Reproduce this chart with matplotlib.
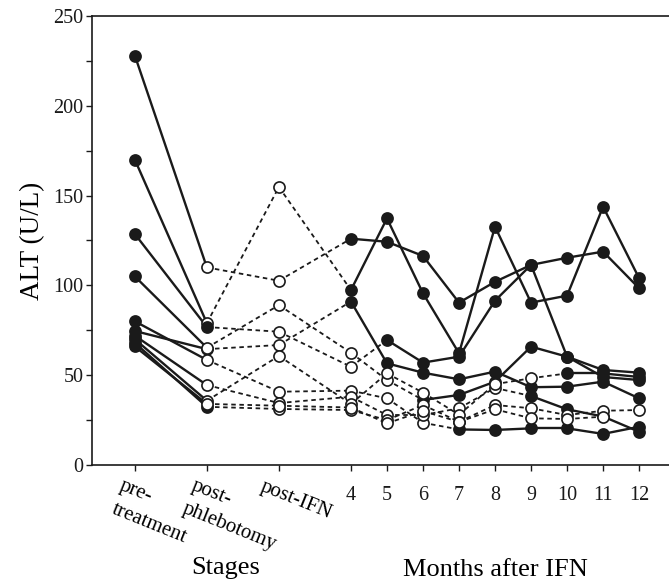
import matplotlib
matplotlib.use('Agg')
import matplotlib.pyplot as plt
import numpy as np

plt.rcParams['font.family'] = ['Liberation Serif', 'DejaVu Serif']

# x positions: 3 stages then months 4..12
stage_lines = [['pre-', 'treatment'], ['post-', 'phlebotomy'], ['post-IFN']]
months = [4, 5, 6, 7, 8, 9, 10, 11, 12]
xpos = [0, 2, 4] + [6 + i for i in range(len(months))]

# ALT values per patient (pre, post-phleb, post-IFN, month 4..12)
p1 = [228, 110, 102.6, 126, 124.3, 116.4, 90.4, 102, 111.4, 115.4, 118.8, 98.4]
p2 = [170, 79, 154.8, 97.4, 137.3, 95.6, 62.2, 132.7, 90.4, 94.3, 143.8, 104]
p3 = [128.6, 76.8, 74.2, 54.7, 69.6, 57, 60.3, 91.5, 111.4, 60.3, 52.9, 51.4]
p4 = [74.6, 64.5, 66.8, 91, 56.6, 51.4, 47.7, 52, 43.3, 43.6, 46.4, 37.1]
p5 = [105, 65.3, 89, 62.5, 47.3, 36.2, 39, 46.4, 65.9, 60.3, 49, 47.3]
p6 = [80, 58.5, 40.8, 41.4, 37.1, 23.5, 19.8, 19.5, 20.4, 20.4, 17.3, 21.3]
p7 = [72, 44.5, 34.5, 38, 27.8, 27.8, 31.6, 42.9, 38.4, 31, 27, 18.5]
p8 = [70, 35.8, 60.7, 34, 51, 40.3, 28, 45, 48.3, 51, 51, 49]
p9 = [68, 32.4, 31.2, 30.6, 25, 33.4, 24.1, 33.4, 31.6, 27.8, 30.2, 30.6]
p10 = [66, 34, 33, 32, 23.2, 30, 24, 31, 26, 25.6, 26.9, None]

# 1 = filled circle, 0 = open circle
f1 = [1, 0, 0, 1, 1, 1, 1, 1, 1, 1, 1, 1]
f2 = [1, 0, 0, 1, 1, 1, 1, 1, 1, 1, 1, 1]
f3 = [1, 1, 0, 0, 1, 1, 1, 1, 1, 1, 1, 1]
f4 = [1, 0, 0, 1, 1, 1, 1, 1, 1, 1, 1, 1]
f5 = [1, 0, 0, 0, 0, 1, 1, 1, 1, 1, 1, 1]
f6 = [1, 0, 0, 0, 0, 0, 1, 1, 1, 1, 1, 1]
f7 = [1, 0, 0, 0, 0, 0, 0, 0, 1, 1, 1, 1]
f8 = [1, 0, 0, 0, 0, 0, 0, 0, 0, 1, 1, 1]
f9 = [1, 1, 0, 0, 0, 0, 0, 0, 0, 0, 0, 0]
f10 = [1, 0, 0, 0, 0, 0, 0, 0, 0, 0, 0, 0]

patients = [p1, p2, p3, p4, p5, p6, p7, p8, p9, p10]
fills = [f1, f2, f3, f4, f5, f6, f7, f8, f9, f10]

W, H = 669, 586
fig = plt.figure(figsize=(W / 100, H / 100), dpi=100)
ax = fig.add_axes([0.1375, 0.2065, 0.8625, 0.7662])

for vals, fl in zip(patients, fills):
    # segments first
    for i in range(len(vals) - 1):
        if vals[i] is None or vals[i + 1] is None:
            continue
        solid = (i == 0) or (fl[i] and fl[i + 1])
        if solid:
            ax.plot([xpos[i], xpos[i + 1]], [vals[i], vals[i + 1]], color='#1a1a1a',
                    lw=1.7, ls='-', zorder=2)
        else:
            ax.plot([xpos[i], xpos[i + 1]], [vals[i], vals[i + 1]], color='#1a1a1a',
                    lw=1.3, ls=(0, (2.5, 2.0)), zorder=2)
for vals, fl in zip(patients, fills):
    for i in range(len(vals)):
        if vals[i] is None:
            continue
        face = '#1a1a1a' if fl[i] else 'white'
        ax.plot(xpos[i], vals[i], 'o', ms=8, mfc=face, mec='#1a1a1a', mew=1.2, zorder=3)

ax.set_xlim(-1.19, 14.83)
ax.set_ylim(0, 250)
ax.set_yticks(np.arange(0, 251, 25))
ax.set_yticklabels([str(v) if v % 50 == 0 else '' for v in range(0, 251, 25)])
ax.set_xticks(xpos)
ax.set_xticklabels(['', '', ''] + [str(m) for m in months])
ax.tick_params(axis='both', direction='out', length=4, width=1, labelsize=14.5, colors='#1a1a1a')
ax.tick_params(axis='x', pad=11)
ax.tick_params(axis='y', pad=2)
ax.spines['right'].set_visible(False)
for s in ['left', 'bottom', 'top']:
    ax.spines[s].set_linewidth(1.2)
    ax.spines[s].set_color('#1a1a1a')

ax.set_ylabel('ALT (U/L)', fontsize=19.5, labelpad=6)

# stage labels, each line placed on its own (pixel positions of line starts)
starts = [[(124, 476), (116, 500)], [(196, 476), (187, 499)], [(265, 477)]]
for lines, pts in zip(stage_lines, starts):
    for txt, (px, py) in zip(lines, pts):
        fig.text(px / W, 1 - py / H, txt, fontsize=15, rotation=-22,
                 rotation_mode='anchor', ha='left', va='top')

fig.text(226 / W, 1 - 568 / H, 'Stages', fontsize=19, ha='center', va='center')
fig.text(495 / W, 1 - 570 / H, 'Months after IFN', fontsize=19, ha='center', va='center')

fig.savefig('out.png', dpi=100)
